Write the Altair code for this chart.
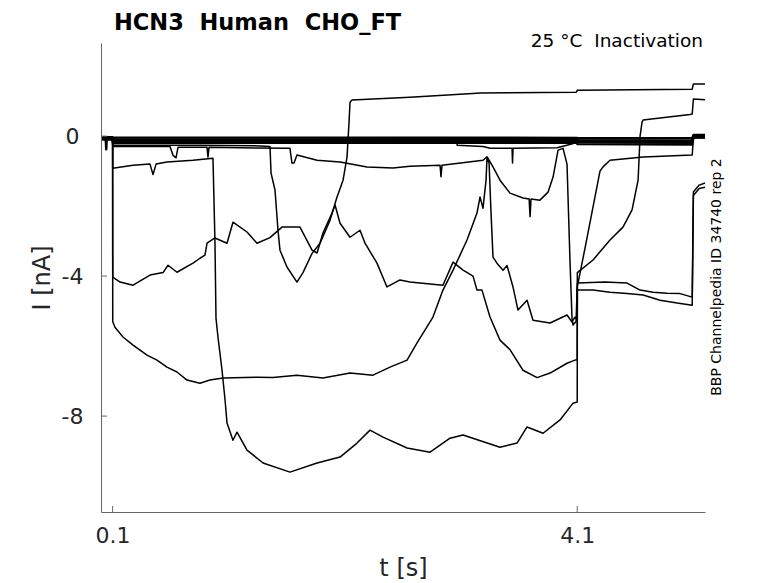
import altair as alt
import pandas as pd

title_text = "HCN3\u00a0\u00a0Human\u00a0\u00a0CHO_FT"
subtitle_text = "25 °C\u00a0\u00a0Inactivation"
side_text = "BBP Channelpedia ID 34740 rep 2"
x_ticks = [0.1, 4.1]
y_ticks = [0, -4, -8]

# (t [s], I [nA])
zero_a = [(0.01, -0.03), (0.04, -0.03), (0.045, -0.38), (0.05, -0.03), (0.1, -0.03), (0.101, -0.04),
          (4.1, -0.05), (4.101, -0.06), (5.09, -0.06), (5.1, 0.03), (5.2, 0.03)]
zero_b = [(0.01, -0.06), (0.1, -0.06), (0.101, -0.09), (4.1, -0.1), (4.101, -0.12), (5.09, -0.13),
          (5.1, 0.0), (5.2, 0.0)]
zero_c = [(0.01, -0.08), (0.1, -0.08), (0.101, -0.14), (4.1, -0.14), (4.101, -0.17), (5.09, -0.19),
          (5.1, -0.02), (5.2, -0.02)]
zero_d = [(0.01, -0.1), (0.1, -0.1), (0.101, -0.19), (4.1, -0.19), (4.101, -0.23), (5.09, -0.24),
          (5.1, -0.04), (5.2, -0.04)]

trace_e = [(0.01, -0.05), (0.1, -0.05), (0.101, -0.1), (3.065, -0.12), (3.066, -0.26), (3.289, -0.3),
           (3.349, -0.35), (3.539, -0.35), (3.543, -0.77), (3.547, -0.35), (3.926, -0.33), (4.06, -0.22),
           (4.1, -0.15), (5.09, -0.15), (5.1, 0.0), (5.2, 0.0)]

trace_b = [(0.01, -0.05), (0.1, -0.05), (0.101, -0.26), (0.85, -0.26), (1.37, -0.28), (1.455, -0.3),
           (1.464, -1.06), (1.498, -1.54), (1.524, -2.7), (1.541, -3.26), (1.601, -3.74), (1.687, -4.17),
           (1.739, -3.9), (1.817, -3.35), (1.886, -3.06), (1.972, -2.4), (2.032, -1.74), (2.084, -1.26),
           (2.118, -0.6), (2.135, 0.37), (2.144, 0.97), (2.161, 1.03), (2.66, 1.11), (3.27, 1.23),
           (4.09, 1.25), (4.101, 1.31), (5.09, 1.34), (5.1, 1.49), (5.2, 1.49)]

trace_c = [(0.01, -0.05), (0.1, -0.05), (0.101, -0.3), (0.594, -0.3), (0.62, -0.55), (0.646, -0.62),
           (0.663, -0.32), (0.913, -0.32), (0.921, -0.6), (0.93, -0.32), (1.627, -0.35), (1.644, -0.77),
           (1.662, -0.77), (1.687, -0.54), (1.86, -0.69), (2.058, -0.74), (2.29, -0.88), (2.514, -0.91),
           (2.66, -0.86), (2.919, -0.83), (2.927, -1.16), (2.936, -0.83), (3.289, -0.69), (3.323, -0.59),
           (3.375, -0.88), (3.435, -1.26), (3.521, -1.63), (3.633, -1.77), (3.686, -1.8), (3.694, -2.3),
           (3.702, -1.8), (3.779, -1.83), (3.849, -1.6), (3.892, -1.17), (3.935, -0.4), (3.978, -0.35),
           (4.012, -0.8), (4.038, -3.6), (4.055, -5.2), (4.064, -5.4), (4.09, -5.3), (4.101, -4.2),
           (4.339, -4.17), (4.529, -4.2), (4.641, -4.4), (4.753, -4.46), (4.874, -4.49), (4.985, -4.5),
           (5.09, -4.6), (5.1, -1.6), (5.15, -1.4), (5.2, -1.34)]

trace_f = [(0.01, -0.05), (0.1, -0.05), (0.101, -5.3), (0.12, -5.46), (0.189, -5.74), (0.276, -5.97),
           (0.396, -6.26), (0.482, -6.4), (0.568, -6.6), (0.654, -6.74), (0.74, -6.97), (0.852, -7.06),
           (0.938, -6.97), (1.05, -6.91), (1.343, -6.89), (1.481, -6.9), (1.687, -6.83), (1.911, -6.91),
           (2.144, -6.77), (2.342, -6.83), (2.488, -6.6), (2.635, -6.4), (2.721, -5.91), (2.858, -5.17),
           (2.944, -4.4), (3.031, -3.83), (3.151, -2.97), (3.237, -2.2), (3.263, -1.74), (3.289, -2.06),
           (3.315, -1.26), (3.323, -0.63), (3.341, -0.77), (3.358, -2.2), (3.375, -3.46), (3.409, -3.63),
           (3.461, -3.83), (3.496, -3.7), (3.547, -4.31), (3.59, -4.97), (3.668, -4.69), (3.719, -5.26),
           (3.866, -5.34), (4.012, -5.11), (4.055, -5.31), (4.081, -5.17), (4.1, -5.25), (4.101, -4.4),
           (4.236, -4.4), (4.382, -4.46), (4.529, -4.5), (4.667, -4.54), (4.813, -4.69), (4.96, -4.77),
           (5.09, -4.83), (5.1, -1.7), (5.15, -1.5), (5.2, -1.46)]

trace_g = [(0.01, -0.05), (0.1, -0.05), (0.101, -4.03), (0.164, -4.17), (0.276, -4.26), (0.422, -3.97),
           (0.534, -3.9), (0.577, -3.69), (0.654, -3.89), (0.792, -3.63), (0.852, -3.49), (0.895, -3.4),
           (0.913, -3.06), (0.981, -2.91), (1.085, -3.06), (1.136, -2.46), (1.257, -2.74), (1.343, -3.06),
           (1.455, -2.9), (1.558, -2.6), (1.713, -2.6), (1.817, -3.26), (1.86, -3.34), (1.911, -2.77),
           (1.989, -2.2), (2.015, -1.97), (2.058, -2.49), (2.144, -2.89), (2.23, -2.69), (2.273, -3.06),
           (2.376, -3.63), (2.462, -4.31), (2.574, -4.11), (2.66, -4.17), (2.746, -4.2), (2.944, -4.26),
           (3.031, -3.6), (3.117, -3.83), (3.203, -4.0), (3.237, -4.4), (3.28, -4.4), (3.349, -5.17),
           (3.435, -5.83), (3.521, -6.1), (3.633, -6.69), (3.754, -6.9), (3.866, -6.77), (4.012, -6.49),
           (4.081, -6.4), (4.1, -6.4), (4.101, -3.9), (4.236, -3.54), (4.382, -2.97), (4.494, -2.6),
           (4.572, -2.11), (4.624, -1.26), (4.641, 0.0), (4.658, 0.4), (4.667, 0.46), (5.071, 0.62),
           (5.09, 0.63), (5.1, 1.06), (5.2, 1.04)]

trace_h = [(0.01, -0.05), (0.1, -0.05), (0.101, -0.92), (0.276, -0.83), (0.422, -0.8), (0.448, -1.1),
           (0.474, -0.8), (0.568, -0.74), (0.792, -0.69), (0.964, -0.63), (0.981, -3.0), (0.99, -5.2),
           (1.007, -5.74), (1.042, -6.69), (1.068, -7.54), (1.085, -8.2), (1.136, -8.69), (1.171, -8.46),
           (1.257, -8.97), (1.395, -9.34), (1.627, -9.6), (1.86, -9.34), (2.058, -9.17), (2.204, -8.77),
           (2.316, -8.4), (2.428, -8.6), (2.635, -8.91), (2.833, -9.03), (3.005, -8.63), (3.117, -8.54),
           (3.435, -8.89), (3.582, -8.77), (3.668, -8.31), (3.806, -8.49), (3.952, -8.11), (4.064, -7.63),
           (4.1, -7.6), (4.101, -4.3), (4.167, -3.2), (4.296, -1.0), (4.322, -0.88), (4.382, -0.69),
           (4.667, -0.6), (5.09, -0.54), (5.1, -0.05), (5.2, -0.05)]

zero_traces = {"z1": zero_a, "z2": zero_b, "z3": zero_c, "z4": zero_d}
other_traces = {"e": trace_e, "b": trace_b, "c": trace_c, "f": trace_f, "g": trace_g, "h": trace_h}


def to_frame(traces):
    rows = []
    for name, pts in traces.items():
        for k, (t, i) in enumerate(pts):
            rows.append({"trace": name, "t": t, "I": i, "k": k})
    return pd.DataFrame(rows)


df_zero = to_frame(zero_traces)
df_other = to_frame(other_traces)

W, H = 604, 469
xs = alt.Scale(domain=[0, 5.2], nice=False, zero=False)
ys = alt.Scale(domain=[-10.74, 2.66], nice=False, zero=False)

axis_common = dict(grid=False, ticks=False, domainColor="#666666", domainWidth=1,
                   labelFont="DejaVu Sans", labelFontSize=22, labelColor="#262626",
                   titleFont="DejaVu Sans", titleFontSize=24, titleFontWeight="normal",
                   titleColor="#262626", labelExpr="toString(datum.value)")

x_enc = alt.X("t:Q", scale=xs, axis=alt.Axis(values=x_ticks, title="t [s]", labelPadding=13,
                                              titleY=56, titleBaseline="middle", **axis_common))
y_enc = alt.Y("I:Q", scale=ys, axis=alt.Axis(values=y_ticks, title="I [nA]", labelPadding=29,
                                              labelAlign="center", labelBaseline="middle",
                                              titleX=-59, titleBaseline="middle", **axis_common))

lines = alt.Chart(df_other).mark_line(color="black", strokeWidth=1.5, strokeJoin="round").encode(
    x=x_enc, y=y_enc, detail="trace:N", order="k:Q")
zero_lines = alt.Chart(df_zero).mark_line(color="black", strokeWidth=2.4, strokeJoin="round").encode(
    x=x_enc, y=y_enc, detail="trace:N", order="k:Q")

ytick_df = pd.DataFrame({"v": y_ticks})
xtick_df = pd.DataFrame({"v": x_ticks})
yt = alt.Chart(ytick_df).mark_rule(color="#666666", strokeWidth=1).encode(
    y=alt.Y("v:Q", scale=ys, title="I [nA]"), x=alt.value(0), x2=alt.value(6))
xt = alt.Chart(xtick_df).mark_rule(color="#666666", strokeWidth=1).encode(
    x=alt.X("v:Q", scale=xs, title="t [s]"), y=alt.value(H), y2=alt.value(H - 6))

ann = pd.DataFrame({"title": [title_text], "sub": [subtitle_text], "side": [side_text]})
t_title = alt.Chart(ann).mark_text(align="left", baseline="alphabetic", fontSize=22.5, fontWeight="bold",
                                   font="DejaVu Sans", color="black").encode(
    x=alt.value(13), y=alt.value(-13.5), text="title:N")
t_sub = alt.Chart(ann).mark_text(align="right", baseline="alphabetic", fontSize=18.5,
                                 font="DejaVu Sans", color="black").encode(
    x=alt.value(602), y=alt.value(4), text="sub:N")
t_side = alt.Chart(ann).mark_text(align="center", baseline="middle", fontSize=14, angle=270,
                                  font="DejaVu Sans", color="black").encode(
    x=alt.value(616), y=alt.value(234), text="side:N")

chart = alt.layer(zero_lines, lines, yt, xt, t_title, t_sub, t_side).properties(
    width=W, height=H,
    padding={"left": 93, "top": 35, "right": 60, "bottom": 70},
    autosize=alt.AutoSizeParams(type="none"),
    background="white",
).configure_view(stroke=None)

chart.save("out.html", embed_options={"renderer": "svg", "actions": False})
